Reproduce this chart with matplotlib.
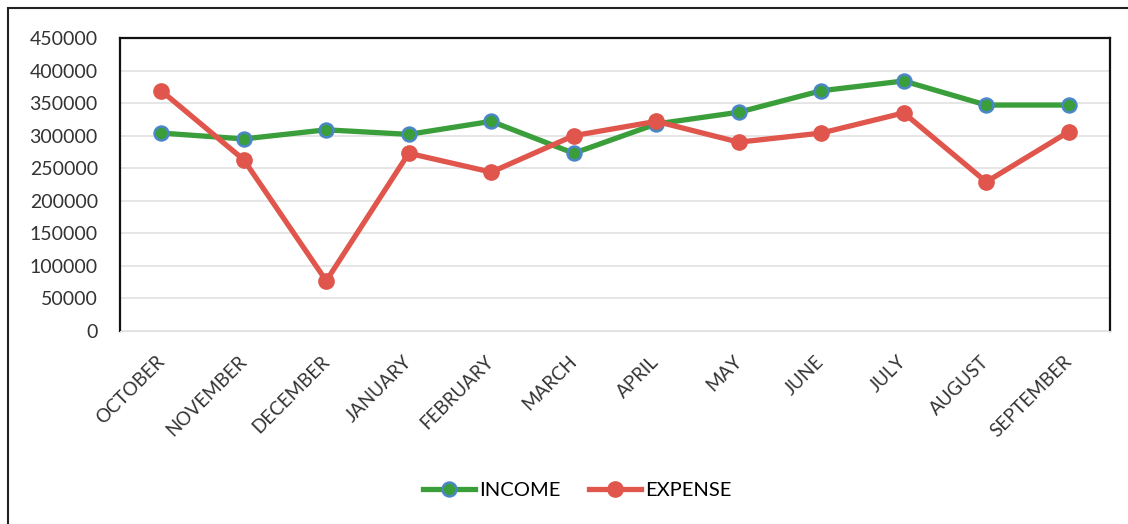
import matplotlib
matplotlib.use('Agg')
import matplotlib.pyplot as plt
from matplotlib.patches import Rectangle

months = ['OCTOBER', 'NOVEMBER', 'DECEMBER', 'JANUARY', 'FEBRUARY', 'MARCH',
          'APRIL', 'MAY', 'JUNE', 'JULY', 'AUGUST', 'SEPTEMBER']
income = [304000, 295000, 309000, 302000, 322000, 273000,
          318000, 336000, 369000, 384000, 347000, 347000]
expense = [369000, 263000, 77000, 273000, 244000, 300000,
           322000, 290000, 304000, 335000, 229000, 306000]
yticks = list(range(0, 450001, 50000))

plt.rcParams['font.family'] = ['Lato', 'DejaVu Sans']

fig = plt.figure(figsize=(11.28, 5.24), dpi=100)
# outer chart border
fig.patches.append(Rectangle((8 / 1128, -0.01), 1.2, 1 - 8 / 524 + 0.01,
                             transform=fig.transFigure, fill=False,
                             edgecolor='#222222', linewidth=1.5))

ax = fig.add_axes([120 / 1128, 1 - 331 / 524, 990 / 1128, 293 / 524])
x = range(len(months))
ax.plot(x, income, color='#3a9e3a', linewidth=3.8, marker='o', markersize=10,
        markerfacecolor='#3a9e3a', markeredgecolor='#4a86c8',
        markeredgewidth=1.8, label='INCOME', zorder=3)
ax.plot(x, expense, color='#e0554c', linewidth=3.8, marker='o', markersize=11,
        markerfacecolor='#e0554c', markeredgecolor='#e0554c',
        label='EXPENSE', zorder=4)

ax.set_xlim(-0.5, len(months) - 0.5)
ax.set_ylim(0, 450000)
ax.set_yticks(yticks)
ax.set_yticklabels([str(v) for v in yticks], fontsize=14, color='#333333')
ax.set_xticks(list(x))
ax.set_xticklabels(months, rotation=45, ha='right', va='center',
                   rotation_mode='anchor', fontsize=13.5, color='#333333')
ax.tick_params(axis='y', length=0, pad=16)
ax.tick_params(axis='x', length=0, pad=20)
ax.grid(axis='y', color='#e2e2e2', linewidth=1.2)
ax.set_axisbelow(True)
for s in ['left', 'top', 'right']:
    ax.spines[s].set_color('#111111')
    ax.spines[s].set_linewidth(1.6)
ax.spines['bottom'].set_color('#e2e2e2')

fig.legend(loc='center', bbox_to_anchor=(577 / 1128, 1 - 490 / 524), ncol=2,
           frameon=False, fontsize=14.5, handlelength=2.6, columnspacing=1.4,
           handletextpad=0.2)

plt.savefig('out.png', dpi=100)
